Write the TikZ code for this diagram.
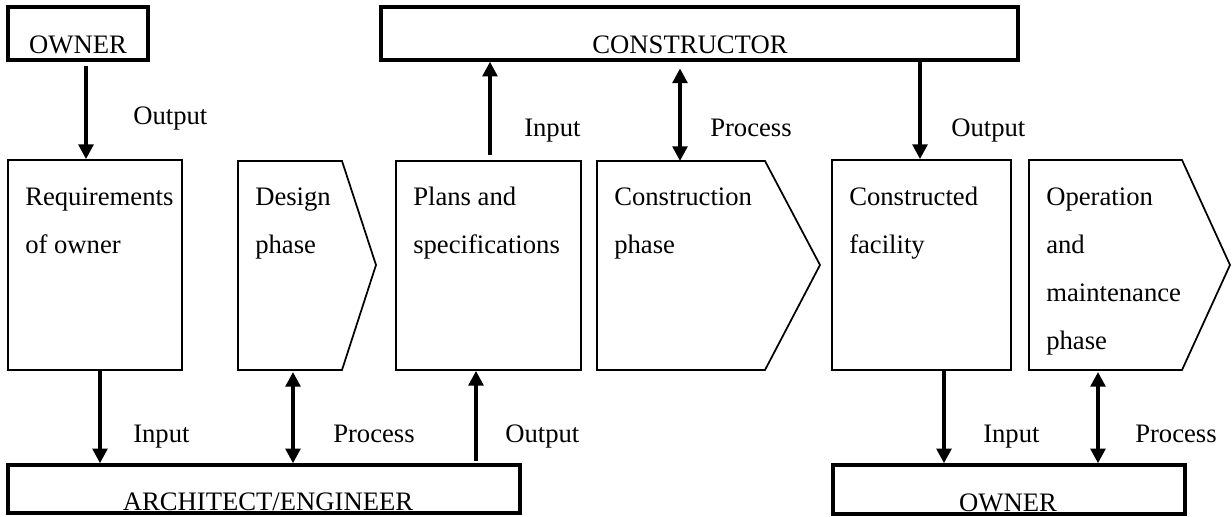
\documentclass[tikz,border=0pt]{standalone}
\usepackage{fontspec}
\setmainfont{Liberation Serif}
\usetikzlibrary{arrows.meta,fit}
\tikzset{
  thickbox/.style={draw, line width=2.6pt, inner sep=0pt},
  thinbox/.style={draw, line width=1.3pt, inner sep=0pt},
  phasebox/.style={draw, line width=1.3pt, line join=miter},
  txt/.style={inner sep=0pt, anchor=base west, align=left, font=\fontsize{20}{36}\selectfont},
  ctxt/.style={inner sep=0pt, anchor=base, font=\fontsize{20}{24}\selectfont},
  arr/.style={line width=2.6pt, -{Triangle[length=11pt,width=11pt]}},
  darr/.style={line width=2.6pt, {Triangle[length=11pt,width=11pt]}-{Triangle[length=11pt,width=11pt]}},
}
\begin{document}
\begin{tikzpicture}[x=0.75pt,y=-0.75pt]
\useasboundingbox (0,0) rectangle (1232,517);
% heavy boxes
\node[thickbox, fit={(8,7)(148,60)}] (ownerT) {};
\node[ctxt] (ownerTt) at (78,54) {OWNER};
\node[thickbox, fit={(381,7)(1018,60)}] (cons) {};
\node[ctxt] (const) at (690,54) {CONSTRUCTOR};
\node[thickbox, fit={(8,465)(520,513)}] (arch) {};
\node[ctxt] (archt) at (268,510) {ARCHITECT/ENGINEER};
\node[thickbox, fit={(833,465)(1185,514)}] (ownerB) {};
\node[ctxt] (ownerBt) at (1008,511) {OWNER};
% product boxes
\node[thinbox, fit={(8,160)(182,370)}] (req) {};
\node[thinbox, fit={(396,161)(581,370)}] (plans) {};
\node[thinbox, fit={(832,160)(1011,370)}] (fac) {};
% phase boxes
\draw[phasebox] (238,161) coordinate (dTL) -- (342,161) -- (376,265) -- (342,370) -- (238,370) coordinate (dBL) -- cycle;
\draw[phasebox] (597,161) coordinate (cTL) -- (765,161) -- (820,265) -- (765,370) -- (597,370) coordinate (cBL) -- cycle;
\draw[phasebox] (1029,160) coordinate (oTL) -- (1182,160) -- (1230,265) -- (1182,370) -- (1029,370) coordinate (oBL) -- cycle;
% box texts (base anchor = baseline of the last line)
\node[txt] (reqt) at (25,253) {Requirements\\of owner};
\node[txt] (dest) at (255,253) {Design\\phase};
\node[txt] (planst) at (413,253) {Plans and\\specifications};
\node[txt] (cphaset) at (614,253) {Construction\\phase};
\node[txt] (fact) at (849,253) {Constructed\\facility};
\node[txt] (opert) at (1046,349) {Operation\\and\\maintenance\\phase};
% arrow x positions
\coordinate (x1) at (86,0);
\coordinate (x2) at (490,0);
\coordinate (x3) at (680,0);
\coordinate (x4) at (920,0);
\coordinate (x5) at (100,0);
\coordinate (x6) at (293,0);
\coordinate (x7) at (476,0);
\coordinate (x8) at (944,0);
\coordinate (x9) at (1098,0);
% connectors
\draw[arr] ([yshift=-3pt]ownerT.south -| x1) -- (req.north -| x1);
\draw[arr] ([yshift=4pt]plans.north -| x2) -- (cons.south -| x2);
\draw[darr] ([yshift=-5pt]cons.south -| x3) -- (cTL -| x3);
\draw[arr] (cons.south -| x4) -- (fac.north -| x4);
\draw[arr] (req.south -| x5) -- (arch.north -| x5);
\draw[darr] ([yshift=-1.5pt]dBL -| x6) -- (arch.north -| x6);
\draw[arr] ([yshift=1.5pt]arch.north -| x7) -- (plans.south -| x7);
\draw[arr] (fac.south -| x8) -- (ownerB.north -| x8);
\draw[darr] ([yshift=-1.5pt]oBL -| x9) -- (ownerB.north -| x9);
% labels
\node[txt] (l1) at (133,124) {Output};
\node[txt] (l2) at (524,137) {Input};
\node[txt] (l3) at (710,137) {Process};
\node[txt] (l4) at (951,137) {Output};
\node[txt] (l5) at (133,442) {Input};
\node[txt] (l6) at (333,442) {Process};
\node[txt] (l7) at (505,442) {Output};
\node[txt] (l8) at (983,442) {Input};
\node[txt] (l9) at (1135,442) {Process};
\end{tikzpicture}
\end{document}
